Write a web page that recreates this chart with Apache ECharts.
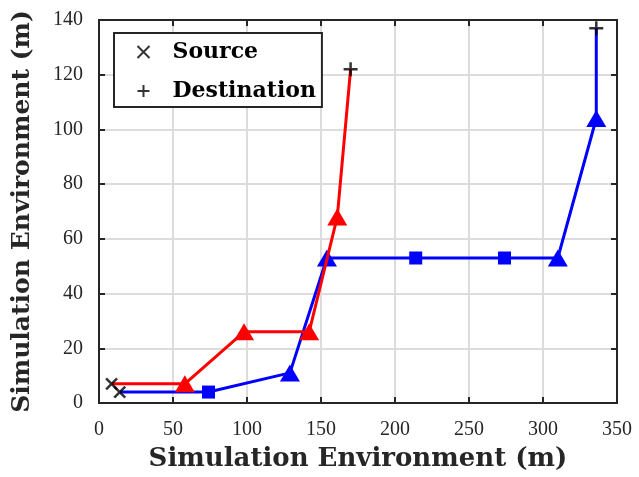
<!DOCTYPE html>
<html><head><meta charset="utf-8">
<script src="https://cdn.jsdelivr.net/npm/echarts@6/dist/echarts.min.js"></script>
<style>html,body{margin:0;padding:0;background:#fff}#c{width:639px;height:477px}</style>
</head><body><div id="c"></div>
<script>
// ---- data ----
const xTicks = [0, 50, 100, 150, 200, 250, 300, 350];
const yTicks = [0, 20, 40, 60, 80, 100, 120, 140];
const redX = [8.5, 58, 98, 142, 161, 170];
const redY = [7, 7, 26, 26, 68, 122];
const redMarks = ['none', 'triangle', 'triangle', 'triangle', 'triangle', 'none'];
const blueX = [14, 74, 129, 154, 214, 274, 310, 336, 336];
const blueY = [4, 4, 11, 53, 53, 53, 53, 104, 137];
const blueMarks = ['none', 'rect', 'triangle', 'triangle', 'rect', 'rect', 'triangle', 'triangle', 'none'];
const sourceX = [8.5, 14];
const sourceY = [7, 4];
const destX = [170, 336];
const destY = [122, 137];
const seriesNames = ['Source', 'Destination'];
const axisTitle = 'Simulation Environment (m)';

const SERIF = '"Liberation Serif", "DejaVu Serif", serif';
const BOLDSERIF = '"DejaVu Serif", "Liberation Serif", serif';
const CROSS = 'path://M0,0L10,10M10,0L0,10';
const PLUS = 'path://M5,0L5,10M0,5L10,5';

function pts(xs, ys, marks) {
  return xs.map((x, i) => {
    const m = marks ? marks[i] : null;
    const o = { value: [x, ys[i]] };
    if (m) {
      o.symbol = m;
      o.symbolSize = m === 'triangle' ? [20, 17] : (m === 'rect' ? 13 : 0);
    }
    return o;
  });
}

const chart = echarts.init(document.getElementById('c'), null, { renderer: 'canvas' });
const axisLineStyle = { color: '#262626', width: 2 };
chart.setOption({
  animation: false,
  backgroundColor: '#fff',
  grid: { left: 99, right: 22, top: 20, bottom: 71, show: true, borderColor: '#262626', borderWidth: 2, containLabel: false },
  xAxis: [{
    type: 'value', min: 0, max: 350, interval: 50,
    name: axisTitle, nameLocation: 'middle', nameGap: 43,
    nameTextStyle: { fontFamily: BOLDSERIF, fontWeight: 'bold', fontSize: 26, color: '#262626' },
    axisLine: { show: true, onZero: false, lineStyle: axisLineStyle },
    axisTick: { show: true, inside: true, length: 6, lineStyle: axisLineStyle },
    axisLabel: { fontFamily: SERIF, fontSize: 20, color: '#262626', margin: 17 },
    splitLine: { show: true, lineStyle: { color: '#dcdcdc', width: 2 } }
  }, {
    type: 'value', position: 'top', min: 0, max: 350, interval: 50,
    axisLine: { show: true, onZero: false, lineStyle: axisLineStyle },
    axisTick: { show: true, inside: true, length: 6, lineStyle: axisLineStyle },
    axisLabel: { show: false }, splitLine: { show: false }
  }],
  yAxis: [{
    type: 'value', min: 0, max: 140, interval: 20,
    name: axisTitle, nameLocation: 'middle', nameGap: 64,
    nameTextStyle: { fontFamily: BOLDSERIF, fontWeight: 'bold', fontSize: 25, color: '#262626' },
    axisLine: { show: true, onZero: false, lineStyle: axisLineStyle },
    axisTick: { show: true, inside: true, length: 6, lineStyle: axisLineStyle },
    axisLabel: { fontFamily: SERIF, fontSize: 20, color: '#262626', margin: 16 },
    splitLine: { show: true, lineStyle: { color: '#dcdcdc', width: 2 } }
  }, {
    type: 'value', position: 'right', min: 0, max: 140, interval: 20,
    axisLine: { show: true, onZero: false, lineStyle: axisLineStyle },
    axisTick: { show: true, inside: true, length: 6, lineStyle: axisLineStyle },
    axisLabel: { show: false }, splitLine: { show: false }
  }],
  legend: {
    orient: 'vertical', left: 114, top: 33,
    padding: [8, 6, 5, 21],
    itemGap: 17, itemWidth: 12, itemHeight: 12,
    borderColor: '#262626', borderWidth: 2, backgroundColor: '#fff',
    textStyle: { fontFamily: BOLDSERIF, fontWeight: 'bold', fontSize: 22, color: '#000', padding: [0, 0, 0, 18] },
    data: [{ name: seriesNames[0], icon: CROSS }, { name: seriesNames[1], icon: PLUS }]
  },
  series: [
    {
      type: 'line', name: 'blue', data: pts(blueX, blueY, blueMarks),
      lineStyle: { color: '#0000ff', width: 3 }, itemStyle: { color: '#0000ff' },
      showSymbol: true, z: 2
    },
    {
      type: 'line', name: 'red', data: pts(redX, redY, redMarks),
      lineStyle: { color: '#ff0000', width: 3 }, itemStyle: { color: '#ff0000' },
      showSymbol: true, z: 3
    },
    {
      type: 'scatter', name: seriesNames[0], symbol: CROSS, symbolSize: 11,
      data: pts(sourceX, sourceY),
      itemStyle: { color: 'none', borderColor: '#000', borderWidth: 2.5 }, z: 5
    },
    {
      type: 'scatter', name: seriesNames[1], symbol: PLUS, symbolSize: 14,
      data: pts(destX, destY),
      itemStyle: { color: 'none', borderColor: '#000', borderWidth: 2.5 }, z: 5
    }
  ]
});
</script></body></html>
